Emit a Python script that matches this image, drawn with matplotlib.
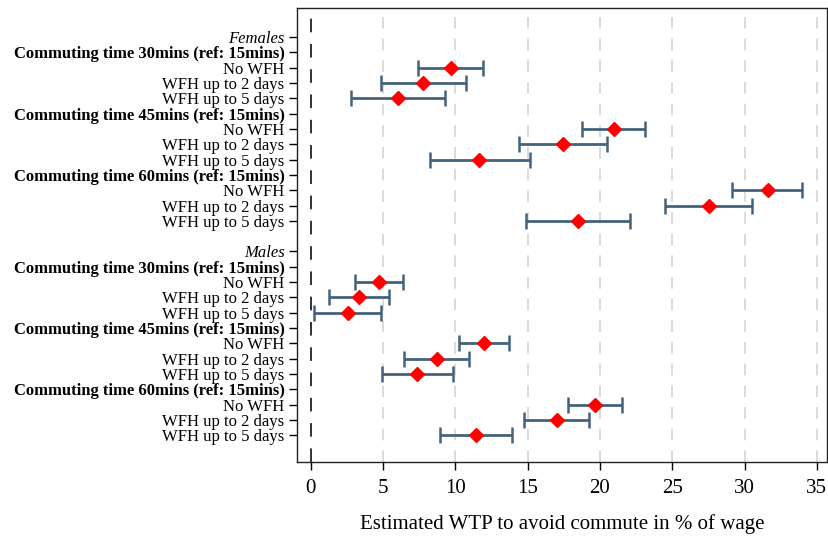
#!/usr/bin/env python
#  -*- coding: utf-8 -*-
"""
    Coefficient plot: estimated WTP to avoid commute, females vs males.
"""
import numpy as np
import matplotlib
matplotlib.use("Agg")
import matplotlib.pyplot as plt

plt.rcParams["font.family"] = ["Liberation Serif", "DejaVu Serif"]

# Row labels, top to bottom. Empty string = blank spacer row.
row_labels = [
    "Females",
    "Commuting time 30mins (ref: 15mins)",
    "No WFH", "WFH up to 2 days", "WFH up to 5 days",
    "Commuting time 45mins (ref: 15mins)",
    "No WFH", "WFH up to 2 days", "WFH up to 5 days",
    "Commuting time 60mins (ref: 15mins)",
    "No WFH", "WFH up to 2 days", "WFH up to 5 days",
    "",
    "Males",
    "Commuting time 30mins (ref: 15mins)",
    "No WFH", "WFH up to 2 days", "WFH up to 5 days",
    "Commuting time 45mins (ref: 15mins)",
    "No WFH", "WFH up to 2 days", "WFH up to 5 days",
    "Commuting time 60mins (ref: 15mins)",
    "No WFH", "WFH up to 2 days", "WFH up to 5 days",
]
row_style = (["italic", "bold"] + ["normal"] * 3 + ["bold"] + ["normal"] * 3
             + ["bold"] + ["normal"] * 3)
row_style = row_style + ["blank"] + row_style

# Estimates (row index, point, lower CI, upper CI)
est_rows = [2, 3, 4, 6, 7, 8, 10, 11, 12,
            16, 17, 18, 20, 21, 22, 24, 25, 26]
est_point = [9.70, 7.79, 6.06, 20.95, 17.42, 11.66, 31.61, 27.51, 18.46,
             4.71, 3.32, 2.56, 12.00, 8.71, 7.33, 19.63, 17.00, 11.45]
est_low = [7.42, 4.84, 2.79, 18.76, 14.40, 8.27, 29.10, 24.47, 14.87,
           3.07, 1.29, 0.21, 10.26, 6.48, 4.93, 17.77, 14.77, 8.96]
est_high = [11.94, 10.76, 9.31, 23.13, 20.50, 15.14, 34.00, 30.50, 22.08,
            6.41, 5.40, 4.84, 13.71, 10.97, 9.82, 21.50, 19.26, 13.92]

x_ticks = [0, 5, 10, 15, 20, 25, 30, 35]


def main():
    fig = plt.figure(figsize=(8.29, 5.37), dpi=100)
    ax = fig.add_axes([297 / 829, 1 - 462 / 537, 530 / 829, 454 / 537])

    # Grid lines and zero reference line
    for xv in x_ticks[1:]:
        ax.axvline(xv, color="#d4d4d4", lw=1.2, ls=(0, (7, 6)), zorder=0)
    ax.axvline(0, color="#333333", lw=1.4, ls=(0, (7, 6)), zorder=1)

    y = np.array(est_rows)
    point = np.array(est_point)
    ax.errorbar(point, y,
                xerr=[point - np.array(est_low), np.array(est_high) - point],
                fmt="none", ecolor="#44627c", elinewidth=2.0,
                capsize=5.5, capthick=1.8, zorder=2)
    ax.plot(point, y, "D", color="#ff0000", ms=7.5, mec="#ff0000", zorder=3)

    # y axis labels
    tick_rows = [i for i, s in enumerate(row_style) if s != "blank"]
    ax.set_yticks(tick_rows)
    ax.set_yticklabels([row_labels[i] for i in tick_rows], fontsize=12)
    for lab, i in zip(ax.get_yticklabels(), tick_rows):
        if row_style[i] == "italic":
            lab.set_fontstyle("italic")
        elif row_style[i] == "bold":
            lab.set_fontweight("bold")
    ax.set_ylim(27.75, -1.9)

    ax.set_xlim(-0.94, 35.7)
    ax.set_xticks(x_ticks)
    ax.tick_params(axis="x", labelsize=15, length=6, width=1.0, pad=6)
    ax.tick_params(axis="y", length=6, width=1.0, pad=3)
    ax.set_xlabel("Estimated WTP to avoid commute in % of wage",
                  fontsize=15, labelpad=12)

    for sp in ax.spines.values():
        sp.set_linewidth(1.0)
        sp.set_color("#222222")

    fig.savefig("out.png", dpi=100)


if __name__ == "__main__":
    main()
